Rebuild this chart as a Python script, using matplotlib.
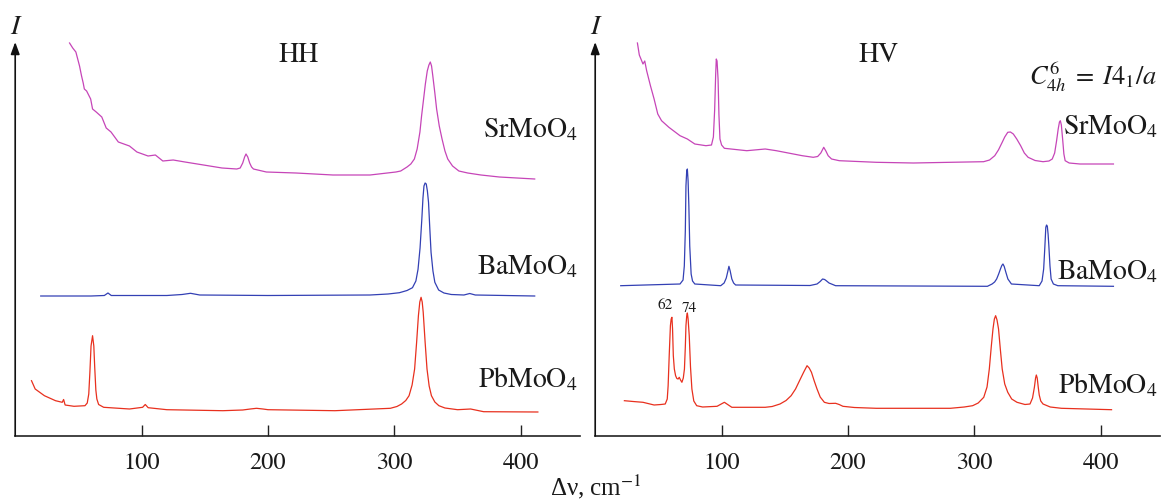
import matplotlib
matplotlib.use("Agg")
import matplotlib.pyplot as plt

plt.rcParams['font.family'] = 'STIXGeneral'
plt.rcParams['mathtext.fontset'] = 'stix'

# Raman spectra, HH geometry (shift in cm-1, intensity in arb. units above baseline)
sr_hh_x = [43.0, 45.5, 48.0, 50.9, 52.5, 53.8, 54.7, 56.5, 59.7, 61.2, 64.1, 68.5, 72, 75.8, 81.6,
           86, 90.4, 96.3, 105.1, 110.9, 116.8, 125, 134.3, 149, 163.6, 175.3, 178, 180, 181.5,
           182.6, 184, 185.5, 187, 188.5, 198.7, 222.1, 251.4, 280.7, 301.2, 305, 310, 313, 315.8,
           318, 320.2, 321.5, 323.1, 324.5, 326, 327.3, 328.4, 329.4, 330.4, 332, 333.4, 335.5,
           337.7, 340, 342.2, 346, 351, 358, 368.5, 383, 411]
sr_hh_y = [138, 133, 129, 115, 105, 98, 92, 90, 82, 72, 69, 64, 53, 49, 39,
           37, 35, 29, 25, 26, 20, 21, 19, 16, 13, 12, 13, 18, 24,
           27, 24, 18, 14, 12, 9, 8, 6, 6, 9, 10, 14, 17, 22,
           32, 49, 65, 82, 97, 110, 116, 119, 115, 105, 88, 72, 55,
           42, 30, 22, 15, 10, 8, 6, 4, 2]

ba_hh_x = [20.2, 60, 70.5, 73.4, 76, 120, 132, 138.7, 146, 200, 280.7, 295, 304, 310, 314.3,
           317, 318.7, 320.3, 321.7, 322.6, 323.4, 324.3, 325.2, 326.1, 327, 328, 329, 330.5,
           332, 335, 339.2, 345, 355, 359.6, 364, 411]
ba_hh_y = [0, 0, 0.5, 3, 0.5, 0.5, 1.5, 2.7, 1, 0.5, 1, 2, 3.3, 5.5, 8.3,
           15, 26.7, 48, 76.7, 98, 110, 113, 112, 105, 93.7, 68, 43.7, 25,
           13.7, 6, 3, 1.5, 1, 2.5, 1, 0]

pb_hh_x = [12.9, 15.8, 23.1, 31.9, 37.2, 38.3, 39.5, 46.5, 55.2, 57, 58.2, 59.1, 60, 61.2, 62.2,
           62.9, 63.8, 64.6, 66, 70, 90.4, 100.8, 102.9, 105.2, 120, 164.3, 180, 186, 190.9,
           196, 200, 253, 296.8, 302, 305.7, 309, 311.6, 314, 316, 317.6, 319, 320.1, 321.1,
           322, 322.8, 324.3, 325.8, 327.5, 329.3, 332, 335.2, 340, 350, 360.3, 370.6, 413.5]
pb_hh_y = [31.3, 23, 16.3, 11.3, 9.7, 12.5, 7, 5.7, 6.3, 9, 18, 40, 66, 76.3, 66,
           45, 22, 13, 7.5, 4.7, 3, 4.7, 7.5, 4.3, 2.3, 1.3, 2, 3, 3.7,
           3, 2.3, 1.3, 3.7, 5.5, 8, 11.5, 16.3, 27, 43, 70, 96.3, 110, 114.7,
           110, 99.7, 70, 43, 26, 16.3, 10, 6.3, 4, 2.3, 3, 0.3, 0]

# HV geometry
sr_hv_x = [33.4, 34.9, 37.8, 39.2, 40.7, 43.7, 46.6, 49.5, 52.5, 58.3, 67.1, 72.9, 78.8, 87.6, 92,
           93.5, 94.5, 95.3, 95.8, 96.4, 97.2, 97.9, 98.7, 100, 102.2, 119.9, 134.5, 143.3, 163.8,
           172.5, 176, 178.5, 180.8, 182.5, 184.3, 187, 193.1, 222.4, 251.7, 281, 307.3, 312,
           316.1, 319, 322, 324, 326.4, 328.5, 330.8, 333.5, 336.6, 339.5, 342.5, 348, 354.3,
           359, 361.6, 363.5, 365, 366.3, 367.3, 368, 368.8, 369.8, 370.8, 371.8, 375, 383.5, 410]
sr_hv_y = [122, 110, 101, 104, 94.3, 79.3, 66, 51, 44.3, 37.7, 29.3, 26, 21, 19.3, 20,
           28, 55, 90, 106, 104, 86, 50, 26, 20, 16.7, 14.3, 16, 14.3, 9.3,
           7.7, 8.5, 12, 17.7, 14, 9.3, 6, 4.3, 2.7, 2, 2.7, 3.3, 5,
           9.3, 15, 22.7, 28, 32.7, 33, 31, 26, 19.3, 12, 7.7, 4.5, 3.3,
           4, 6, 12, 24, 36, 43, 44.3, 40, 26, 11, 4.3, 2, 1, 1]

ba_hv_x = [20.2, 67.1, 69.5, 70.5, 71.3, 71.8, 72.4, 72.9, 73.5, 74.1, 74.8, 75.9, 77, 78.8,
           99.3, 102, 103.7, 104.8, 105.8, 106.8, 108.1, 109.5, 111.1, 170, 175.5, 178, 179.9,
           181.5, 182.8, 185, 190.2, 310.3, 314, 316, 317.6, 319.2, 320.6, 321.7, 322.6, 323.6,
           324.9, 326.5, 329.3, 351.3, 353.5, 354.8, 355.7, 356.5, 357.1, 357.7, 358.3, 358.9,
           359.8, 360.7, 362.5, 366, 410]
ba_hv_y = [0.3, 2, 6, 20, 55, 100, 115, 117, 105, 80, 40, 12, 5, 2,
           0.3, 3, 8, 14, 19.7, 15, 7, 3, 1, 0.5, 2, 4.5, 7,
           6.5, 5.3, 3, 0.3, -0.3, 2, 4, 7, 12, 17, 20.5, 22, 19.5,
           13.7, 7, 2, 0.3, 5, 17, 38, 58.7, 61, 59.7, 52, 40.3,
           20, 7, 2, 0.3, -0.3]

pb_hv_x = [23.1, 30, 37.8, 46.6, 52, 55.4, 57, 57.7, 58.6, 59.5, 60.1, 60.7, 61.2, 61.8, 62.6,
           63.6, 64.6, 65.6, 66.5, 67.5, 68.6, 69.7, 70.6, 71.3, 71.8, 72.4, 72.9, 73.5, 74.4,
           75.4, 76.5, 78, 80.3, 85, 96.4, 102.2, 108.1, 134.5, 140, 146.2, 151, 155, 158.5,
           162.3, 165, 167.6, 169.3, 171.1, 173.3, 175.5, 178, 181.3, 185, 190.2, 193, 196, 205,
           222.4, 281, 292, 298.6, 303, 307.4, 310, 311.8, 313.4, 314.7, 315.8, 316.8, 317.9,
           319.1, 320.5, 322, 324, 326.4, 329.5, 333.7, 340, 344, 346, 347.5, 348.4, 349, 349.7,
           350.5, 351.3, 352.5, 354.3, 360, 368.9, 408.5]
pb_hv_y = [8.3, 7.5, 6.7, 4, 4.5, 5, 10, 23.3, 55, 83.3, 90, 91.7, 80, 53.3, 40,
           33.3, 30.5, 30, 31.7, 29, 26.7, 31, 40, 62, 83.3, 93, 96, 90, 73.3,
           42, 20, 8, 3.3, 2, 2.7, 6.7, 1.7, 1.7, 2.5, 5, 8.5, 13.3, 20,
           30, 37, 43.3, 41, 36.7, 28, 20, 12, 6.7, 5.5, 5.7, 4.5, 2.7, 1.5,
           0.7, 0.7, 2, 3.3, 6, 11.7, 22, 40, 63, 80, 90, 93.3, 89,
           80, 60, 40, 25, 16.7, 10, 6.7, 4.5, 5, 11, 22, 31, 34, 31,
           22, 14, 8, 5, 2, 0.7, -0.7]

names = [r'$\mathrm{SrMoO}_4$', r'$\mathrm{BaMoO}_4$', r'$\mathrm{PbMoO}_4$']
colors = ['#c645b8', '#3340b4', '#e8301e']

fig = plt.figure(figsize=(11.61, 5.02), dpi=100)
ax1 = fig.add_axes([15.2 / 1161, 65 / 502, 565 / 1161, 394 / 502])
ax2 = fig.add_axes([595.2 / 1161, 65 / 502, 565 / 1161, 394 / 502])

panels = [
    (ax1, [(sr_hh_x, sr_hh_y), (ba_hh_x, ba_hh_y), (pb_hh_x, pb_hh_y)], [255, 140, 24], [300, 163, 50], 'HH'),
    (ax2, [(sr_hv_x, sr_hv_y), (ba_hv_x, ba_hv_y), (pb_hv_x, pb_hv_y)], [271, 150, 27], [303, 158, 44], 'HV'),
]

for ax, spectra, offsets, label_y, title in panels:
    for (x, y), off, c, name, ly in zip(spectra, offsets, colors, names, label_y):
        ax.plot(x, [v + off for v in y], color=c, lw=0.9)
        ax.text(445, ly, name, ha='right', va='baseline', fontsize=20, color='#1a1a1a')
    ax.set_xlim(0, 447)
    ax.set_ylim(0, 394)
    for s in ['top', 'right', 'left']:
        ax.spines[s].set_visible(False)
    ax.spines['bottom'].set_linewidth(1.2)
    ax.spines['bottom'].set_color('#222222')
    ax.set_yticks([])
    ax.set_xticks([100, 200, 300, 400])
    ax.tick_params(axis='x', direction='in', length=8, width=1, colors='#222222',
                   labelsize=17.5, pad=11, labelcolor='#1a1a1a')
    # y axis drawn as an arrow
    ax.annotate('', xy=(0, 1), xytext=(0, 0), xycoords='axes fraction',
                arrowprops=dict(arrowstyle='-|>,head_length=0.6,head_width=0.22',
                                mutation_scale=12, lw=1.2, color='#111111',
                                shrinkA=0, shrinkB=0))
    ax.text(0, 409, 'I', style='italic', fontsize=20, ha='center', va='center',
            clip_on=False, color='#1a1a1a')
    ax.text(224, 382, title, fontsize=20, ha='center', va='center', color='#1a1a1a')

ax2.text(394, 360, r'$C_{4h}^{6}\;=\;I4_1/a$', fontsize=19, ha='center', va='center', color='#1a1a1a')
ax2.text(55.4, 132, '62', fontsize=11, ha='center', va='center', color='#1a1a1a')
ax2.text(74.3, 129, '74', fontsize=11, ha='center', va='center', color='#1a1a1a')

fig.text(596 / 1161, 1 - 487 / 502, 'Δν, cm$^{-1}$', fontsize=18, family='Liberation Serif',
         ha='center', va='center', color='#1a1a1a')

fig.savefig('out.png', dpi=100)
